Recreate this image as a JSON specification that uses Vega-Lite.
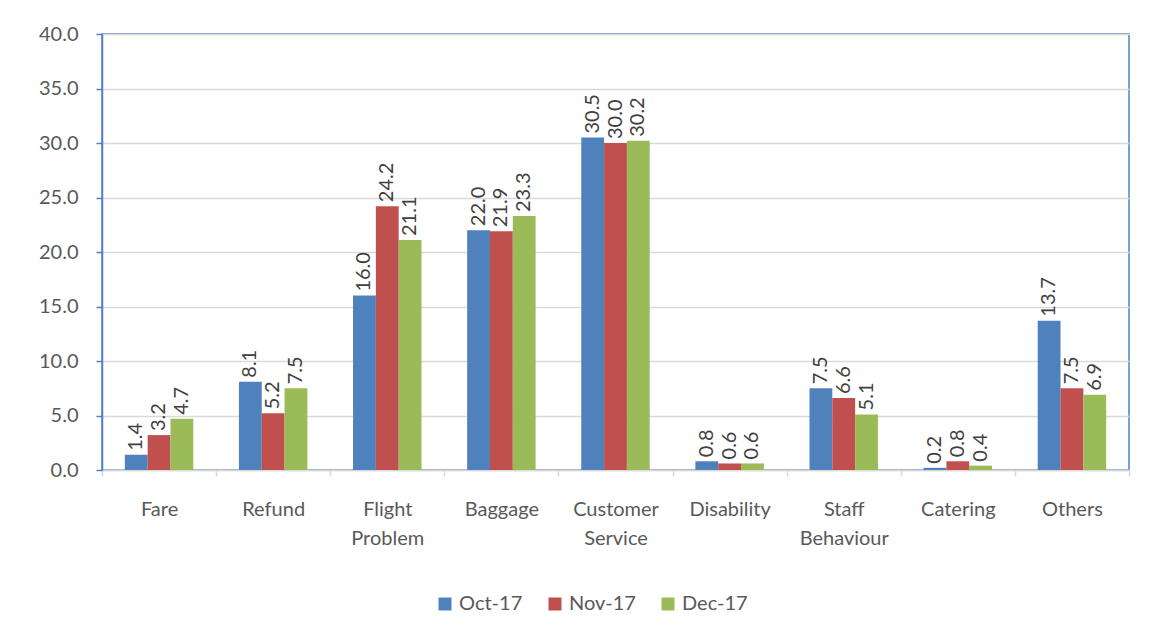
{
  "$schema": "https://vega.github.io/schema/vega-lite/v6.json",
  "autosize": {"type": "none"},
  "width": 1027,
  "height": 436,
  "padding": {"left": 102, "top": 34, "right": 23, "bottom": 169},
  "background": "white",
  "config": {
    "font": "Lato",
    "view": {"stroke": "#4F81BD", "strokeWidth": 1.5},
    "axis": {"labelFont": "Lato", "labelColor": "#595959", "labelFontSize": 20, "titleFontSize": 0}
  },
  "data": {
    "values": [
      {"category": "Fare", "month": "Oct-17", "value": 1.4},
      {"category": "Fare", "month": "Nov-17", "value": 3.2},
      {"category": "Fare", "month": "Dec-17", "value": 4.7},
      {"category": "Refund", "month": "Oct-17", "value": 8.1},
      {"category": "Refund", "month": "Nov-17", "value": 5.2},
      {"category": "Refund", "month": "Dec-17", "value": 7.5},
      {"category": "Flight Problem", "month": "Oct-17", "value": 16.0},
      {"category": "Flight Problem", "month": "Nov-17", "value": 24.2},
      {"category": "Flight Problem", "month": "Dec-17", "value": 21.1},
      {"category": "Baggage", "month": "Oct-17", "value": 22.0},
      {"category": "Baggage", "month": "Nov-17", "value": 21.9},
      {"category": "Baggage", "month": "Dec-17", "value": 23.3},
      {"category": "Customer Service", "month": "Oct-17", "value": 30.5},
      {"category": "Customer Service", "month": "Nov-17", "value": 30.0},
      {"category": "Customer Service", "month": "Dec-17", "value": 30.2},
      {"category": "Disability", "month": "Oct-17", "value": 0.8},
      {"category": "Disability", "month": "Nov-17", "value": 0.6},
      {"category": "Disability", "month": "Dec-17", "value": 0.6},
      {"category": "Staff Behaviour", "month": "Oct-17", "value": 7.5},
      {"category": "Staff Behaviour", "month": "Nov-17", "value": 6.6},
      {"category": "Staff Behaviour", "month": "Dec-17", "value": 5.1},
      {"category": "Catering", "month": "Oct-17", "value": 0.2},
      {"category": "Catering", "month": "Nov-17", "value": 0.8},
      {"category": "Catering", "month": "Dec-17", "value": 0.4},
      {"category": "Others", "month": "Oct-17", "value": 13.7},
      {"category": "Others", "month": "Nov-17", "value": 7.5},
      {"category": "Others", "month": "Dec-17", "value": 6.9}
    ]
  },
  "encoding": {
    "x": {
      "field": "category", "type": "nominal", "sort": null, "title": null,
      "scale": {"paddingInner": 0, "paddingOuter": 0},
      "axis": {
        "labelAngle": 0, "tickBand": "extent", "domainColor": "#D9D9D9", "domainWidth": 1.5,
        "tickColor": "#D9D9D9", "tickWidth": 1.5, "tickSize": 6, "labelPadding": 23,
        "labelExpr": "split(datum.label, ' ')", "labelLineHeight": 29, "labelBaseline": "top"
      }
    },
    "xOffset": {
      "field": "month", "type": "nominal", "sort": ["Oct-17", "Nov-17", "Dec-17"],
      "scale": {"paddingInner": 0, "paddingOuter": 1}
    },
    "y": {
      "field": "value", "type": "quantitative", "title": null,
      "scale": {"domain": [0, 40], "nice": false},
      "axis": {
        "values": [0, 5, 10, 15, 20, 25, 30, 35, 40], "format": ".1f",
        "domainColor": "#4F81BD", "domainWidth": 1.5, "tickColor": "#4F81BD", "tickWidth": 1.5,
        "tickSize": 6, "labelPadding": 18, "gridColor": "#D9D9D9", "gridWidth": 1.5
      }
    }
  },
  "layer": [
    {
      "mark": {"type": "bar"},
      "encoding": {
        "color": {
          "field": "month", "type": "nominal", "sort": ["Oct-17", "Nov-17", "Dec-17"], "title": null,
          "scale": {"domain": ["Oct-17", "Nov-17", "Dec-17"], "range": ["#4F81BD", "#C0504D", "#9BBB59"]},
          "legend": {
            "orient": "none", "direction": "horizontal", "legendX": 333, "legendY": 560,
            "symbolType": "square", "symbolSize": 169, "symbolStrokeWidth": 0,
            "labelFontSize": 20, "labelColor": "#595959", "labelFont": "Lato", "columnPadding": 22, "labelOffset": 4
          }
        }
      }
    },
    {
      "mark": {"type": "text", "angle": 270, "align": "left", "baseline": "middle", "dx": 4, "fontSize": 20, "color": "#404040"},
      "encoding": {
        "text": {"field": "value", "type": "quantitative", "format": ".1f"}
      }
    }
  ]
}
